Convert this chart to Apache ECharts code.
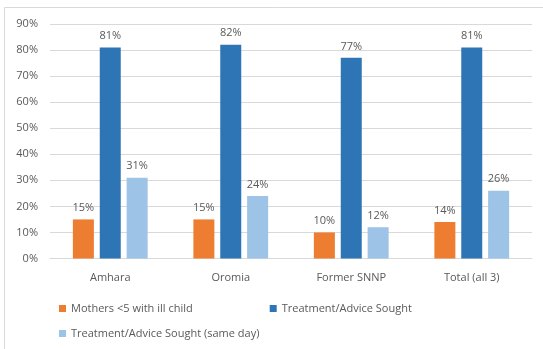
<!DOCTYPE html>
<html>
<head>
<meta charset="utf-8">
<script src="https://cdn.jsdelivr.net/npm/echarts@6/dist/echarts.min.js"></script>
<style>
  html, body { margin: 0; padding: 0; background: #fff; }
  #chart { width: 543px; height: 349px; }
</style>
</head>
<body>
<div id="chart"></div>
<script>
// Regions surveyed
const regions = ['Amhara', 'Oromia', 'Former SNNP', 'Total (all 3)'];

// Percentages per region
const mothersIllChild = [15, 15, 10, 14];
const treatmentSought = [81, 82, 77, 81];
const treatmentSameDay = [31, 24, 12, 26];

// Y axis ticks (percent)
const yTicks = [0, 10, 20, 30, 40, 50, 60, 70, 80, 90];

const seriesNames = [
  'Mothers <5 with ill child',
  'Treatment/Advice Sought',
  'Treatment/Advice Sought (same day)'
];
const seriesColors = ['#ED7D31', '#2E75B6', '#9DC3E6'];
const textColor = '#595959';
const fontFamily = 'Open Sans, Liberation Sans, sans-serif';

const chart = echarts.init(document.getElementById('chart'), null, { renderer: 'canvas' });

function barSeries(name, data, color) {
  return {
    name: name,
    type: 'bar',
    data: data,
    barWidth: 21,
    barGap: '28%',
    itemStyle: { color: color },
    label: {
      show: true,
      position: 'top',
      distance: 6,
      formatter: p => p.value + '%',
      color: textColor,
      fontSize: 11,
      fontFamily: fontFamily
    }
  };
}

const legendBase = {
  itemWidth: 7,
  itemHeight: 7,
  itemGap: 77,
  icon: 'rect',
  orient: 'horizontal',
  textStyle: { color: textColor, fontSize: 11, fontFamily: fontFamily }
};

chart.setOption({
  animation: false,
  backgroundColor: '#ffffff',
  grid: { left: 50, right: 11, top: 24, bottom: 90.5, containLabel: false },
  xAxis: {
    type: 'category',
    data: regions,
    axisLine: { lineStyle: { color: '#d9d9d9' } },
    axisTick: { show: false },
    axisLabel: { color: textColor, fontSize: 11, fontFamily: fontFamily, margin: 14 }
  },
  yAxis: {
    type: 'value',
    min: yTicks[0],
    max: yTicks[yTicks.length - 1],
    interval: 10,
    axisLine: { show: false },
    axisTick: { show: false },
    axisLabel: {
      color: textColor, fontSize: 11, fontFamily: fontFamily, margin: 12,
      formatter: v => v + '%'
    },
    splitLine: { lineStyle: { color: '#d9d9d9', width: 1 } }
  },
  legend: [
    Object.assign({}, legendBase, { left: 54, top: 298, data: seriesNames.slice(0, 2) }),
    Object.assign({}, legendBase, { left: 54, top: 323, data: seriesNames.slice(2) })
  ],
  graphic: [
    { type: 'line', shape: { x1: 4.5, y1: 7.5, x2: 543, y2: 7.5 }, style: { stroke: '#d9d9d9', lineWidth: 1 } },
    { type: 'line', shape: { x1: 4.5, y1: 7.5, x2: 4.5, y2: 349 }, style: { stroke: '#d9d9d9', lineWidth: 1 } }
  ],
  series: [
    barSeries(seriesNames[0], mothersIllChild, seriesColors[0]),
    barSeries(seriesNames[1], treatmentSought, seriesColors[1]),
    barSeries(seriesNames[2], treatmentSameDay, seriesColors[2])
  ]
});
</script>
</body>
</html>
